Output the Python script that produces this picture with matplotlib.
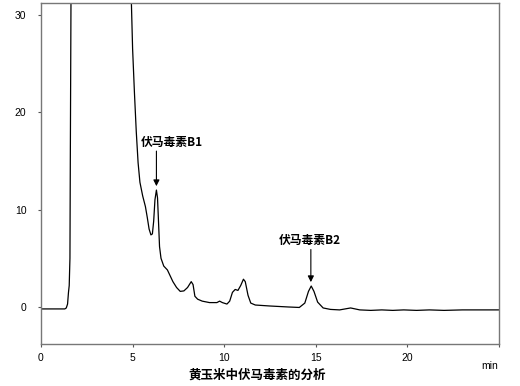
import matplotlib
matplotlib.use("Agg")
import matplotlib.pyplot as plt

plt.rcParams['font.family'] = ['Liberation Sans', 'Noto Sans CJK SC', 'DejaVu Sans']

# chromatogram trace (min, signal)
time_min = [0.0, 1.30, 1.38, 1.45, 1.50, 1.54, 1.58, 1.60, 1.64, 1.70,
            4.88, 4.93, 5.0, 5.1, 5.2, 5.3, 5.4, 5.55, 5.7, 5.8,
            5.9, 6.0, 6.08, 6.15, 6.22, 6.3, 6.36, 6.42, 6.47, 6.55,
            6.7, 6.9, 7.0, 7.2, 7.4, 7.6, 7.8, 8.0, 8.2, 8.3,
            8.4, 8.55, 8.8, 9.2, 9.6, 9.75, 9.9, 10.15, 10.3, 10.45,
            10.6, 10.75, 10.9, 11.05, 11.15, 11.3, 11.45, 11.7, 12.5, 13.5,
            14.1, 14.4, 14.6, 14.75, 14.9, 15.1, 15.4, 15.8, 16.3, 16.9,
            17.4, 18.0, 18.6, 19.2, 19.8, 20.5, 21.2, 22.0, 23.0, 24.0, 25.0]
signal = [-0.2, -0.2, -0.1, 0.3, 1.5, 2.2, 5.0, 15.0, 33.0, 40.0,
          40.0, 31.5, 26.5, 22.0, 18.0, 14.8, 12.8, 11.4, 10.3, 9.2,
          8.0, 7.4, 7.5, 8.8, 11.0, 12.0, 11.2, 8.5, 6.2, 5.0,
          4.2, 3.8, 3.4, 2.6, 2.0, 1.6, 1.65, 2.0, 2.6, 2.3,
          1.1, 0.8, 0.6, 0.45, 0.45, 0.6, 0.45, 0.3, 0.6, 1.5,
          1.8, 1.7, 2.2, 2.85, 2.6, 1.2, 0.4, 0.2, 0.1, 0.0,
          -0.05, 0.4, 1.6, 2.15, 1.6, 0.5, -0.1, -0.25, -0.3, -0.1,
          -0.3, -0.35, -0.3, -0.35, -0.3, -0.35, -0.3, -0.35, -0.3, -0.3, -0.3]

peak_labels = ["伏马毒素B1", "伏马毒素B2"]
peak_times = [6.3, 14.73]
peak_heights = [12.0, 2.15]
label_x = [5.43, 14.67]
label_y = [16.9, 6.8]
label_ha = ["left", "center"]

x_ticks = [0, 5, 10, 15, 20, 25]
x_tick_labels = ["0", "5", "10", "15", "20", ""]
y_ticks = [0, 10, 20, 30]

fig = plt.figure(figsize=(5.2, 3.86), dpi=100)
ax = fig.add_axes([41/520, 42/386, 458/520, 341/386])

ax.plot(time_min, signal, color='black', linewidth=0.9)

for i in range(2):
    ax.annotate("", xy=(peak_times[i], peak_heights[i] + 0.4),
                xytext=(peak_times[i], label_y[i] - 0.9),
                arrowprops=dict(arrowstyle='-|>', color='black', lw=0.8,
                                mutation_scale=9, shrinkA=0, shrinkB=0))
    ax.text(label_x[i], label_y[i], peak_labels[i], ha=label_ha[i], va='center',
            fontsize=8.5, fontweight='bold',
            family=['Noto Sans CJK SC', 'DejaVu Sans'])

ax.set_xlim(0, 25)
ax.set_ylim(-3.8, 31.2)
ax.set_xticks(x_ticks)
ax.set_xticklabels(x_tick_labels)
ax.set_yticks(y_ticks)
ax.tick_params(axis='both', labelsize=7.5, length=2.5, width=0.8, color='#555555')
ax.tick_params(axis='y', pad=8)
ax.tick_params(axis='x', pad=4)

for side in ['left', 'bottom', 'top', 'right']:
    ax.spines[side].set_color('#777777')
    ax.spines[side].set_linewidth(1.0)

fig.text(490/520, 1 - 366/386, "min", ha='center', va='center', fontsize=7.5)
fig.text(257/520, 1 - 375/386, "黄玉米中伏马毒素的分析", ha='center', va='center',
         fontsize=9, fontweight='bold', family=['Noto Sans CJK SC', 'DejaVu Sans'])

fig.savefig("out.png", dpi=100)
